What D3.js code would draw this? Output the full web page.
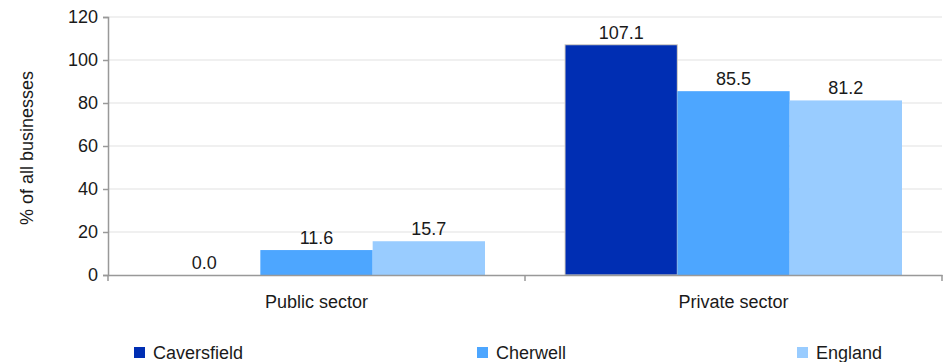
<!DOCTYPE html>
<html>
<head>
<meta charset="utf-8">
<script src="https://cdn.jsdelivr.net/npm/d3@7"></script>
<style>
  body { margin: 0; background: #fff; }
  svg text { font-family: "Liberation Sans", Arial, sans-serif; fill: #1a1a1a; }
</style>
</head>
<body>
<div></div>
<script>
var categories = ["Public sector", "Private sector"];
var seriesNames = ["Caversfield", "Cherwell", "England"];
var caversfield = [0.0, 107.1];
var cherwell = [11.6, 85.5];
var england = [15.7, 81.2];
var yTicks = [0, 20, 40, 60, 80, 100, 120];
var colors = ["#002eb3", "#4da6ff", "#99ccff"];

var outerWidth = 944;
var outerHeight = 362;
var margin = { left: 108, top: 17, right: 2, bottom: 87 };
var innerWidth = outerWidth - margin.left - margin.right;
var innerHeight = outerHeight - margin.top - margin.bottom;
var fontSize = "18px";

var seriesValues = [caversfield, cherwell, england];
var data = categories.map(function (c, i) {
  return { cat: c, vals: seriesNames.map(function (s, j) { return { name: s, value: seriesValues[j][i], idx: j }; }) };
});

var svg = d3.select("div").append("svg")
  .attr("width", outerWidth)
  .attr("height", outerHeight);

var g = svg.append("g")
  .attr("transform", "translate(" + margin.left + "," + margin.top + ")");

var xScale = d3.scaleBand().domain(categories).range([0, innerWidth]).paddingInner(0).paddingOuter(0);
var x1 = d3.scaleBand().domain(seriesNames).range([40, xScale.bandwidth() - 40]);
var yScale = d3.scaleLinear().domain([0, 120]).range([innerHeight, 0]);

// gridlines
g.selectAll("line.grid").data(yTicks.filter(function (d) { return d > 0; }))
  .enter().append("line")
  .attr("class", "grid")
  .attr("x1", 0).attr("x2", innerWidth)
  .attr("y1", function (d) { return yScale(d); })
  .attr("y2", function (d) { return yScale(d); })
  .attr("stroke", "#ebebeb").attr("stroke-width", 1.5);

// bars
var groups = g.selectAll("g.cat").data(data).enter().append("g")
  .attr("transform", function (d) { return "translate(" + xScale(d.cat) + ",0)"; });

groups.selectAll("rect").data(function (d) { return d.vals; })
  .enter().append("rect")
  .attr("x", function (d) { return x1(d.name); })
  .attr("width", x1.bandwidth())
  .attr("y", function (d) { return yScale(d.value); })
  .attr("height", function (d) { return innerHeight - yScale(d.value); })
  .attr("fill", function (d) { return colors[d.idx]; })
  .attr("stroke", function (d) { return d.idx === 0 && d.value > 0 ? "#d9d2c4" : "none"; })
  .attr("stroke-width", 1);

groups.selectAll("text").data(function (d) { return d.vals; })
  .enter().append("text")
  .attr("x", function (d) { return x1(d.name) + x1.bandwidth() / 2; })
  .attr("y", function (d) { return yScale(d.value) - 6; })
  .attr("text-anchor", "middle")
  .style("font-size", fontSize)
  .text(function (d) { return d.value.toFixed(1); });

// axes
var yAxis = g.append("g")
  .call(d3.axisLeft(yScale).tickValues(yTicks).tickSize(5).tickPadding(5));
yAxis.select(".domain").attr("stroke", "#999").attr("stroke-width", 1.5);
yAxis.selectAll(".tick line").attr("stroke", "#999").attr("stroke-width", 1.5);
yAxis.selectAll(".tick text").style("font-size", fontSize).attr("fill", "#1a1a1a");

var xAxis = g.append("g").attr("transform", "translate(0," + innerHeight + ")")
  .call(d3.axisBottom(xScale).tickSize(0).tickPadding(20));
xAxis.select(".domain").attr("stroke", "#999").attr("stroke-width", 1.5);
xAxis.selectAll(".tick text").style("font-size", fontSize).attr("fill", "#1a1a1a");

// category boundary ticks
g.selectAll("line.cb").data([0, innerWidth / 2, innerWidth])
  .enter().append("line")
  .attr("x1", function (d) { return d; }).attr("x2", function (d) { return d; })
  .attr("y1", innerHeight).attr("y2", innerHeight + 6)
  .attr("stroke", "#999").attr("stroke-width", 1.5);

// y label
svg.append("text")
  .attr("transform", "translate(33," + (margin.top + innerHeight / 2 + 2) + ") rotate(-90)")
  .attr("text-anchor", "middle")
  .style("font-size", fontSize)
  .text("% of all businesses");

// legend
var legendX = [134, 477, 797];
var legend = svg.selectAll("g.legend").data(seriesNames).enter().append("g")
  .attr("transform", function (d, i) { return "translate(" + legendX[i] + ",347)"; });
legend.append("rect").attr("width", 11).attr("height", 11)
  .attr("fill", function (d, i) { return colors[i]; });
legend.append("text").attr("x", 19).attr("y", 11.5)
  .style("font-size", fontSize)
  .text(function (d) { return d; });
</script>
</body>
</html>
